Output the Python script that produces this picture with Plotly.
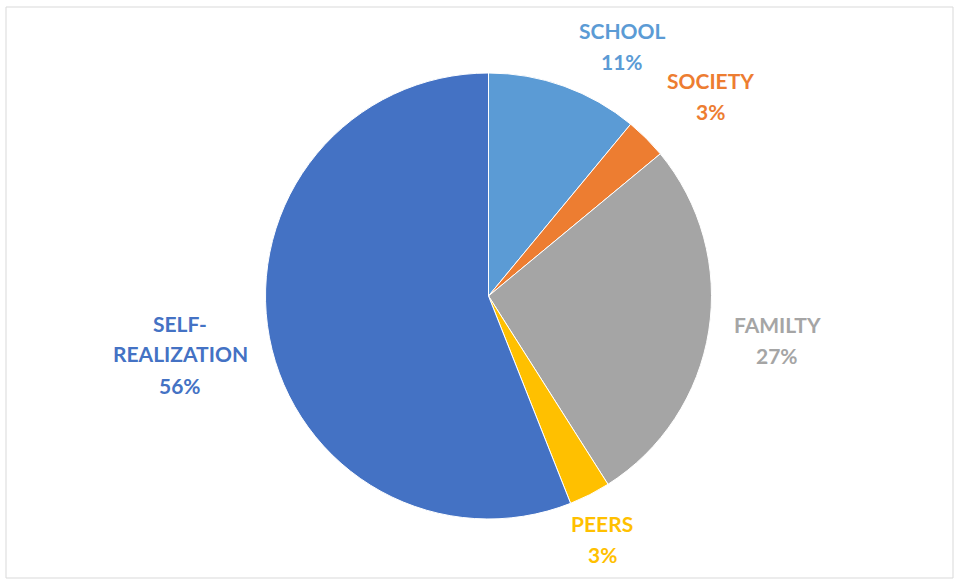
import plotly.graph_objects as go

# Sources of motivation (share of responses, %)
categories = ["SCHOOL", "SOCIETY", "FAMILTY", "PEERS", "SELF-REALIZATION"]
shares = [11, 3, 27, 3, 56]
colors = ["#5B9BD5", "#ED7D31", "#A5A5A5", "#FFC000", "#4472C4"]

# Label name split into display lines
label_lines = {
    "SCHOOL": ["SCHOOL"],
    "SOCIETY": ["SOCIETY"],
    "FAMILTY": ["FAMILTY"],
    "PEERS": ["PEERS"],
    "SELF-REALIZATION": ["SELF-", "REALIZATION"],
}

W, H = 958, 582
CX, CY, R = 488.5, 296, 223  # pie centre and radius, px
# Label block centres (px from top-left)
label_pos = {
    "SCHOOL": (622, 46),
    "SOCIETY": (710, 96),
    "FAMILTY": (777, 340),
    "PEERS": (602, 539),
    "SELF-REALIZATION": (180, 354),
}
LINE_GAP = 31
FONT = "Lato"

fig = go.Figure(
    go.Pie(
        labels=categories,
        values=shares,
        sort=False,
        direction="clockwise",
        rotation=0,
        marker=dict(colors=colors, line=dict(color="white", width=1)),
        textinfo="none",
        hoverinfo="label+percent",
        domain=dict(
            x=[(CX - R) / W, (CX + R) / W],
            y=[(H - CY - R) / H, (H - CY + R) / H],
        ),
    )
)

annotations = []
for cat, val, col in zip(categories, shares, colors):
    lines = label_lines[cat] + [f"{val}%"]
    px, py = label_pos[cat]
    n = len(lines)
    for i, txt in enumerate(lines):
        y_line = py + (i - (n - 1) / 2) * LINE_GAP
        annotations.append(
            dict(
                x=px / W,
                y=1 - y_line / H,
                xref="paper",
                yref="paper",
                text=f"<b>{txt}</b>",
                showarrow=False,
                xanchor="center",
                yanchor="middle",
                font=dict(family=FONT, size=21, color=col),
            )
        )

fig.update_layout(
    width=W,
    height=H,
    margin=dict(l=0, r=0, t=0, b=0),
    paper_bgcolor="white",
    plot_bgcolor="white",
    showlegend=False,
    annotations=annotations,
    shapes=[
        dict(
            type="rect",
            xref="paper",
            yref="paper",
            x0=6 / W,
            x1=953 / W,
            y0=1 - 578 / H,
            y1=1 - 7 / H,
            line=dict(color="#D9D9D9", width=1),
            fillcolor="rgba(0,0,0,0)",
        )
    ],
)

fig.write_html("out.html")
